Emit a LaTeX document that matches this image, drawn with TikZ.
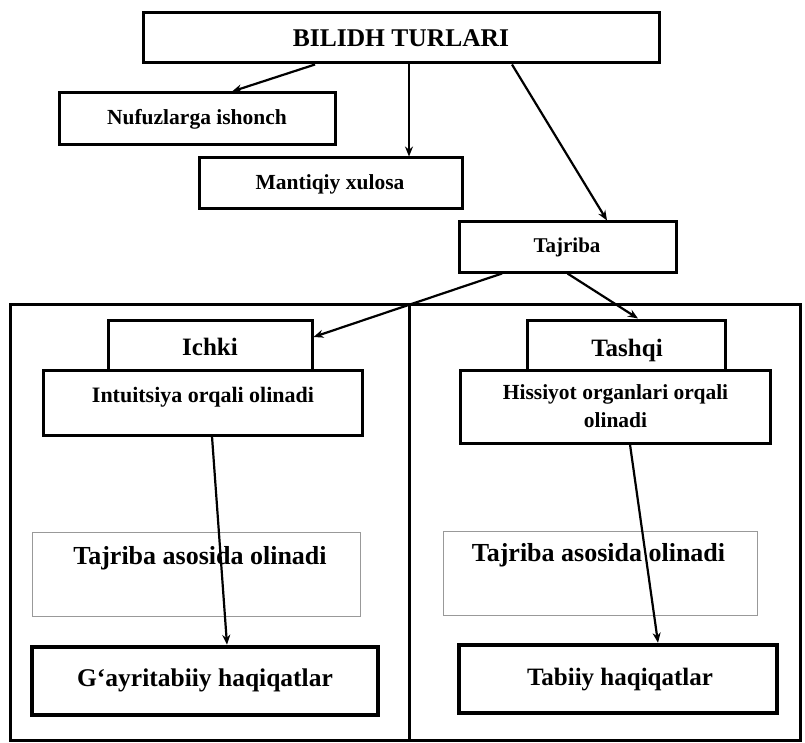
\documentclass[tikz,border=0pt]{standalone}
\usepackage{fontspec}
\setmainfont{Liberation Serif}
\usetikzlibrary{arrows.meta,calc}
\begin{document}
\begin{tikzpicture}[x=1pt,y=-1pt,
  box/.style={draw=black, line width=3pt, rectangle, inner sep=0pt},
  thinbox/.style={draw=black!40, line width=1pt, rectangle, inner sep=0pt},
  heavybox/.style={draw=black, line width=4.5pt, rectangle, inner sep=0pt},
  frame/.style={draw=black, line width=3pt, rectangle, inner sep=0pt},
  txt/.style={inner sep=0pt, anchor=base, font=\bfseries\fontsize{#1}{28}\selectfont, yshift=-0.331*#1},
  txtml/.style={inner sep=0pt, align=center},
  arr/.style={draw=black, line width=2.2pt, -{Stealth[length=10pt,width=8pt]}},
]
\useasboundingbox (0,0) rectangle (805,743);
% outer frames
\node[frame, minimum width=399pt, minimum height=436pt] (lframe) at (209.5,522) {};
\node[frame, minimum width=391pt, minimum height=436pt] (rframe) at (604.5,522) {};
% top part
\node[box, minimum width=516pt, minimum height=50pt] (top) at (401,38) {};
\node[txt=25.5] (toptxt) at (401,38) {BILIDH TURLARI};
\node[box, minimum width=276pt, minimum height=52pt] (nufuz) at (197,119) {};
\node[txt=21.5] (nufuztxt) at (197,117) {Nufuzlarga ishonch};
\node[box, minimum width=263pt, minimum height=51pt] (mant) at (330.5,183.5) {};
\node[txt=21.5] (manttxt) at (330,182) {Mantiqiy xulosa};
\node[box, minimum width=217pt, minimum height=50pt] (taj) at (567.5,247) {};
\node[txt=21] (tajtxt) at (567,246) {Tajriba};
% left column
\node[box, minimum width=204pt, minimum height=50pt] (ichki) at (210,345) {};
\node[txt=25] (ichkitxt) at (210,347) {Ichki};
\node[box, minimum width=319pt, minimum height=65pt] (intu) at (202.5,402.5) {};
\node[txt=22] (intutxt) at (203,395) {Intuitsiya orqali olinadi};
\node[thinbox, minimum width=328pt, minimum height=84pt] (tal) at (196,574) {};
\node[txt=26] (taltxt) at (200,556) {Tajriba asosida olinadi};
\node[heavybox, minimum width=346pt, minimum height=68pt] (gayri) at (205,681) {};
\node[txt=25.5] (gayritxt) at (205,678) {G‘ayritabiiy haqiqatlar};
% right column
\node[box, minimum width=198pt, minimum height=50pt] (tashqi) at (626,345) {};
\node[txt=25] (tashqitxt) at (627,348) {Tashqi};
\node[box, minimum width=310pt, minimum height=73pt] (hiss) at (615,406.5) {};
\node[txtml, font=\bfseries\fontsize{21.5}{28}\selectfont] (hisstxt) at (615.5,406) {Hissiyot organlari orqali\\olinadi};
\node[thinbox, minimum width=314pt, minimum height=84pt] (tar) at (600,573) {};
\node[txt=26] (tartxt) at (598.5,553) {Tajriba asosida olinadi};
\node[heavybox, minimum width=318pt, minimum height=68pt] (tabiiy) at (618,679) {};
\node[txt=25] (tabiiytxt) at (620,677) {Tabiiy haqiqatlar};
% arrows
\draw[arr] ([xshift=-86pt]top.south) -- ([xshift=35pt]nufuz.north);
\draw[arr] ([xshift=8pt]top.south) -- ([xshift=8pt]top.south |- mant.north);
\draw[arr] ([xshift=111pt]top.south) -- ([xshift=39.5pt]taj.north);
\draw[arr] ([xshift=-65.5pt]taj.south) -- ([yshift=8pt]ichki.east);
\draw[arr] (taj.south) -- ([xshift=12pt]tashqi.north);
\draw[arr] ([xshift=9.5pt]intu.south) -- ([xshift=22pt]gayri.north);
\draw[arr] ([xshift=15pt]hiss.south) -- ([xshift=40pt]tabiiy.north);
\end{tikzpicture}
\end{document}
